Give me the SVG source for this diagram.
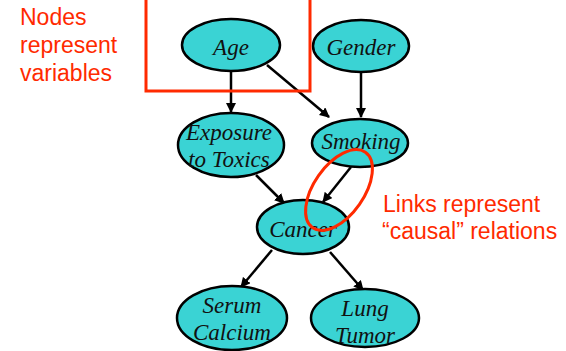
<svg xmlns="http://www.w3.org/2000/svg" width="566" height="351" viewBox="0 0 566 351">
  <style>
    .node ellipse { fill: #3ad3d4; stroke: #000; stroke-width: 2.5; }
    .node text { font-family: "Liberation Serif", "Times New Roman", serif; font-style: italic; font-size: 23px; fill: #111; text-anchor: middle; }
    .edge { stroke: #000; stroke-width: 2.5; fill: none; marker-end: url(#arrow); }
    .note { font-family: "Liberation Sans", Arial, sans-serif; font-size: 23px; fill: #ff2a00; }
    .hl { fill: none; stroke: #ff2a00; stroke-width: 3; }
  </style>
  <defs>
    <marker id="arrow" viewBox="0 0 10 10" refX="9" refY="5" markerWidth="4" markerHeight="4" orient="auto" markerUnits="strokeWidth">
      <path d="M0,0 L10,5 L0,10 z" fill="#000"/>
    </marker>
  </defs>
  <rect width="566" height="351" fill="#fff"/>

  <g id="connectors">
    <line class="edge" x1="231" y1="72" x2="231" y2="112"/>
    <line class="edge" x1="267" y1="65" x2="329" y2="117"/>
    <line class="edge" x1="361" y1="72" x2="361" y2="117"/>
    <line class="edge" x1="256" y1="175" x2="284" y2="203"/>
    <line class="edge" x1="351" y1="167" x2="323" y2="202"/>
    <line class="edge" x1="272" y1="250" x2="241" y2="287"/>
    <line class="edge" x1="330" y1="252" x2="363" y2="290"/>
  </g>

  <g id="age" class="node">
    <ellipse cx="231" cy="45" rx="49" ry="26"/>
    <text x="231" y="55">Age</text>
  </g>
  <g id="gender" class="node">
    <ellipse cx="361" cy="46" rx="48" ry="26"/>
    <text x="361" y="55">Gender</text>
  </g>
  <g id="exposure" class="node">
    <ellipse cx="231" cy="145" rx="53" ry="32"/>
    <text x="229" y="140">Exposure</text>
    <text x="229" y="167">to Toxics</text>
  </g>
  <g id="smoking" class="node">
    <ellipse cx="360" cy="143" rx="48" ry="24"/>
    <text x="361" y="149">Smoking</text>
  </g>
  <g id="cancer" class="node">
    <ellipse cx="303" cy="227" rx="46" ry="27"/>
    <text x="303" y="237">Cancer</text>
  </g>
  <g id="serum-calcium" class="node">
    <ellipse cx="232" cy="318" rx="55" ry="32"/>
    <text x="232" y="313">Serum</text>
    <text x="232" y="340">Calcium</text>
  </g>
  <g id="lung-tumor" class="node">
    <ellipse cx="365" cy="318" rx="54" ry="29"/>
    <text x="365" y="316">Lung</text>
    <text x="365" y="343">Tumor</text>
  </g>

  <g id="annotations">
    <rect class="hl" x="146" y="-10" width="164" height="101"/>
    <text class="note" x="20" y="25">Nodes</text>
    <text class="note" x="20" y="53">represent</text>
    <text class="note" x="20" y="81">variables</text>
    <ellipse class="hl" cx="339" cy="190" rx="46" ry="25" transform="rotate(-55 339 190)"/>
    <text class="note" x="383" y="212">Links represent</text>
    <text class="note" x="382" y="239">“causal” relations</text>
  </g>
</svg>
